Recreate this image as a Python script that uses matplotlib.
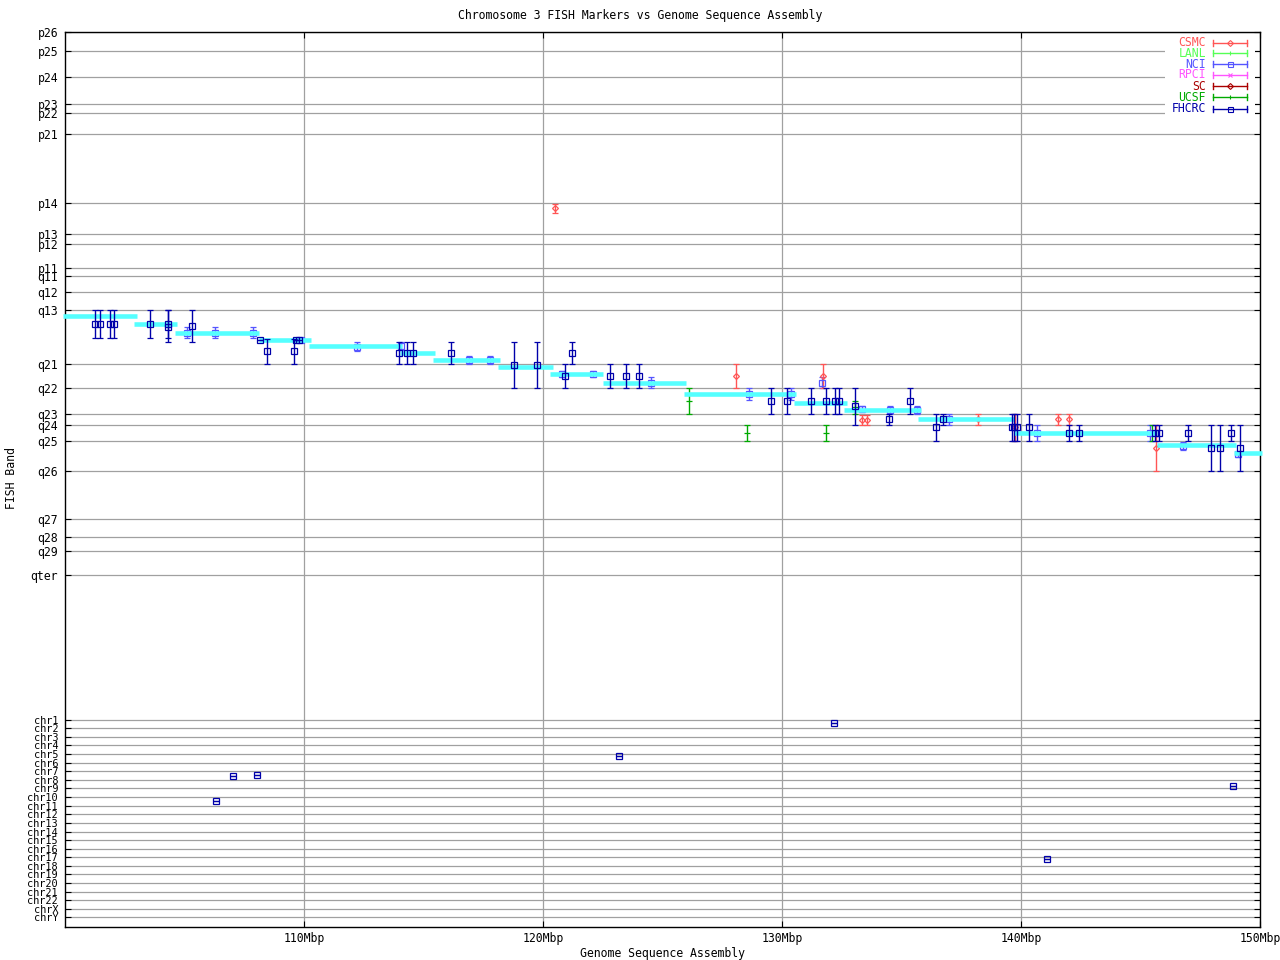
import matplotlib
matplotlib.use("Agg")
import matplotlib.pyplot as plt
from matplotlib.lines import Line2D
from matplotlib.patches import Rectangle

# ---------------- data ----------------
title = "Chromosome 3 FISH Markers vs Genome Sequence Assembly"
x_label = "Genome Sequence Assembly"
y_label = "FISH Band"

x_ticks = [110, 120, 130, 140, 150]
x_tick_labels = ["110Mbp", "120Mbp", "130Mbp", "140Mbp", "150Mbp"]

band_labels = ["p26", "p25", "p24", "p23", "p22", "p21", "p14", "p13", "p12", "p11",
               "q11", "q12", "q13", "q21", "q22", "q23", "q24", "q25", "q26", "q27",
               "q28", "q29", "qter"]
band_pos = [32.3, 51.3, 77.3, 104.3, 113.3, 134.3, 203.3, 234.3, 244.3, 268.3,
            276.3, 292.3, 310.3, 364.3, 388.3, 414.3, 425.0, 441.3, 471.0, 519.3,
            537.3, 551.0, 575.0]
chr_labels = ["chr1", "chr2", "chr3", "chr4", "chr5", "chr6", "chr7", "chr8", "chr9",
              "chr10", "chr11", "chr12", "chr13", "chr14", "chr15", "chr16", "chr17",
              "chr18", "chr19", "chr20", "chr21", "chr22", "chrX", "chrY"]
chr_pos = [720.3, 728.3, 737.0, 745.3, 754.0, 763.0, 771.3, 780.0, 788.3, 797.3,
           806.0, 814.3, 823.0, 831.7, 840.3, 849.0, 857.3, 866.0, 874.3, 883.0,
           892.0, 900.3, 909.0, 917.3]

# sequence assembly (cyan steps)
asm_start = [99.9, 102.9, 104.6, 108.1, 110.2, 114.0, 115.4, 118.1, 120.3, 122.5,
             125.9, 130.5, 132.6, 135.7, 139.7, 145.7, 148.9]
asm_end = [103.0, 104.7, 108.1, 110.3, 114.1, 115.5, 118.2, 120.4, 122.5, 126.0,
           130.6, 132.7, 135.8, 139.7, 145.7, 149.0, 150.1]
asm_band = [315.7, 323.7, 333.0, 340.0, 345.7, 353.0, 359.7, 366.7, 373.7, 382.7,
            393.7, 403.0, 410.0, 419.0, 433.0, 444.7, 453.0]

# FISH markers: position (Mbp), band centre, band low, band high
csmc_x = [120.50, 128.07, 131.70, 133.34, 133.56, 138.20, 139.75, 141.56, 142.00, 145.64]
csmc_c = [208.3, 376.0, 376.0, 419.7, 419.7, 419.3, 427.3, 419.3, 419.3, 448.3]
csmc_lo = [204.0, 364.3, 364.3, 414.7, 414.7, 414.3, 414.3, 414.3, 414.3, 425.0]
csmc_hi = [213.3, 388.3, 388.3, 425.3, 425.3, 425.0, 441.0, 425.0, 425.0, 471.0]

nci_x = [105.09, 106.27, 107.86, 109.86, 112.21, 114.07, 116.90, 117.78, 120.79, 122.09,
         124.51, 128.62, 130.39, 131.67, 133.35, 134.50, 135.64, 136.98, 140.67, 145.41,
         146.77, 149.08]
nci_c = [332.7, 332.7, 332.7, 340.3, 346.7, 346.0, 360.0, 360.0, 374.0, 373.7,
         382.7, 394.0, 394.0, 383.3, 409.5, 410.0, 410.0, 419.5, 433.0, 433.0,
         445.7, 454.0]
nci_lo = [327.3, 327.3, 327.3, 338.5, 342.3, 342.3, 356.3, 356.3, 370.7, 370.7,
          377.3, 388.3, 388.3, 377.3, 406.3, 406.3, 406.3, 414.3, 425.0, 425.0,
          441.7, 451.7]
nci_hi = [338.3, 338.3, 338.3, 342.0, 351.0, 350.0, 363.7, 363.7, 377.0, 376.7,
          388.3, 400.3, 400.3, 388.3, 412.3, 414.3, 414.3, 425.0, 441.0, 441.0,
          450.0, 457.3]

ucsf_x = [126.10, 128.53, 131.84, 133.05, 145.48]
ucsf_c = [401.3, 433.3, 433.3, 407.5, 433.0]
ucsf_lo = [388.3, 425.3, 425.3, 401.3, 425.0]
ucsf_hi = [414.3, 441.3, 441.3, 414.3, 441.0]

fhcrc_x = [101.27, 101.46, 101.88, 102.05, 103.55, 104.29, 104.33, 105.31, 108.15, 108.45,
           109.58, 109.68, 109.79, 113.97, 114.31, 114.56, 116.15, 118.78, 119.74, 120.92,
           121.21, 122.80, 123.47, 124.01, 129.54, 130.21, 131.21, 131.84, 132.21, 132.38,
           133.05, 134.47, 135.35, 136.44, 136.73, 139.61, 139.71, 139.82, 140.33, 142.00,
           142.42, 145.62, 145.77, 147.00, 147.95, 148.32, 148.78, 149.16,
           106.31, 107.02, 108.03, 123.20, 132.16, 141.07, 148.85]
fhcrc_c = [324.3, 324.3, 324.3, 324.3, 324.3, 323.7, 326.7, 326.3, 340.3, 351.3,
           351.3, 340.3, 340.3, 353.3, 353.3, 353.3, 353.3, 365.3, 365.3, 376.3,
           353.3, 376.3, 376.3, 376.3, 401.3, 401.3, 401.3, 401.3, 401.3, 401.3,
           406.3, 419.3, 401.3, 427.3, 419.3, 427.3, 427.3, 427.3, 427.3, 433.0,
           433.0, 433.0, 433.0, 433.0, 448.3, 448.3, 433.0, 448.3,
           801.3, 776.3, 775.3, 756.3, 722.7, 859.3, 786.3]
fhcrc_lo = [310.3, 310.3, 310.3, 310.3, 310.3, 310.3, 310.3, 310.3, 340.3, 338.7,
            338.7, 340.3, 340.3, 342.3, 342.3, 342.3, 342.3, 342.3, 342.3, 364.3,
            342.3, 364.3, 364.3, 364.3, 388.3, 388.3, 388.3, 388.3, 388.3, 388.3,
            388.3, 414.3, 388.3, 414.3, 414.3, 414.3, 414.3, 414.3, 414.3, 425.0,
            425.0, 425.0, 425.0, 425.0, 425.0, 425.0, 425.0, 425.0,
            801.3, 776.3, 775.3, 756.3, 722.7, 859.3, 786.3]
fhcrc_hi = [338.3, 338.3, 338.3, 338.3, 338.3, 338.3, 342.3, 342.3, 340.3, 364.0,
            364.0, 340.3, 340.3, 364.0, 364.0, 364.0, 364.0, 388.3, 388.3, 388.3,
            364.3, 388.3, 388.3, 388.3, 414.3, 414.3, 414.3, 414.3, 414.3, 414.3,
            425.3, 425.0, 414.3, 441.0, 425.0, 441.0, 441.0, 441.0, 441.0, 441.0,
            441.0, 441.0, 441.0, 441.0, 471.0, 471.0, 441.0, 471.0,
            801.3, 776.3, 775.3, 756.3, 722.7, 859.3, 786.3]

legend_names = ["CSMC", "LANL", "NCI", "RPCI", "SC", "UCSF", "FHCRC"]
legend_colors = ["#ff5555", "#55ff55", "#5555ff", "#ff55ff", "#aa0000", "#00aa00", "#0000aa"]
legend_markers = ["D", "|", "s", "x", "D", "|", "s"]

# ---------------- figure ----------------
W, H = 1280, 960
plt.rcParams['font.family'] = ['DejaVu Sans Mono']
FS = 8.3
fig = plt.figure(figsize=(W / 100, H / 100), dpi=100)
L, R, T, B = 65, 1260, 32.3, 926.7
ax = fig.add_axes([L / W, 1 - B / H, (R - L) / W, (B - T) / H])
ax.set_xlim(100, 150)
ax.set_ylim(B, T)

grid_c = "#a0a0a0"
ax.set_xticks(x_ticks)
ax.set_xticklabels(x_tick_labels, fontsize=FS)
ax.set_yticks(band_pos + chr_pos)
ax.set_yticklabels(band_labels + chr_labels, fontsize=FS)
for lbl in ax.get_yticklabels()[len(band_pos):]:
    lbl.set_fontsize(7.4)
ax.tick_params(direction="in", length=4.3, width=0.8, top=True, right=True, pad=5)
ax.tick_params(axis="x", pad=4)
ax.grid(True, color=grid_c, lw=0.9, zorder=0)
ax.set_axisbelow(True)
for s in ax.spines.values():
    s.set_linewidth(1.0)

ax.hlines(asm_band, asm_start, asm_end, colors="#55ffff", lw=3.3, zorder=3,
          clip_on=False, capstyle="butt")


def draw(xs, cs, los, his, color, marker, z, ms=3.8):
    lo_err = [c - lo for c, lo in zip(cs, los)]
    hi_err = [hi - c for c, hi in zip(cs, his)]
    ax.errorbar(xs, cs, yerr=[lo_err, hi_err], fmt=marker, color=color, ms=ms,
                mfc="none", mec=color, mew=0.9, elinewidth=1.0, capsize=2.0,
                capthick=1.0, zorder=z)


draw(nci_x, nci_c, nci_lo, nci_hi, legend_colors[2], "s", 2)
draw(csmc_x, csmc_c, csmc_lo, csmc_hi, legend_colors[0], "D", 2, ms=3.0)
draw(ucsf_x, ucsf_c, ucsf_lo, ucsf_hi, legend_colors[5], "_", 2, ms=4)
draw(fhcrc_x, fhcrc_c, fhcrc_lo, fhcrc_hi, legend_colors[6], "s", 4)

# texts
fig.text(0.5, 1 - 15 / H, title, ha="center", va="center", fontsize=FS)
fig.text(662 / W, 1 - 953 / H, x_label, ha="center", va="center", fontsize=FS)
fig.text(12 / W, 1 - 478 / H, y_label, ha="center", va="center", rotation=90, fontsize=FS)

# legend (gnuplot style)
fx = lambda px: px / W
fy = lambda py: 1 - py / H
fig.add_artist(Rectangle((fx(1165), fy(116)), fx(1255) - fx(1165), fy(35) - fy(116),
                         transform=fig.transFigure, facecolor="white", edgecolor="none",
                         zorder=5))
rows = [42.7, 53.3, 64.0, 74.7, 86.0, 97.3, 108.7]
for name, col, mk, ry in zip(legend_names, legend_colors, legend_markers, rows):
    fig.text(fx(1206), fy(ry), name, color=col, ha="right", va="center", fontsize=FS,
             zorder=6)
    fig.add_artist(Line2D([fx(1213), fx(1247)], [fy(ry), fy(ry)], color=col, lw=1.0,
                          transform=fig.transFigure, zorder=6))
    for ex in (1213, 1247):
        fig.add_artist(Line2D([fx(ex), fx(ex)], [fy(ry - 3), fy(ry + 3)], color=col,
                              lw=1.0, transform=fig.transFigure, zorder=6))
    fig.add_artist(Line2D([fx(1230)], [fy(ry)], marker=mk, ms=3.6 if mk == "s" else 3,
                          mfc="none", mec=col, mew=0.8, color=col,
                          transform=fig.transFigure, zorder=6))

fig.savefig("out.png", dpi=100)
